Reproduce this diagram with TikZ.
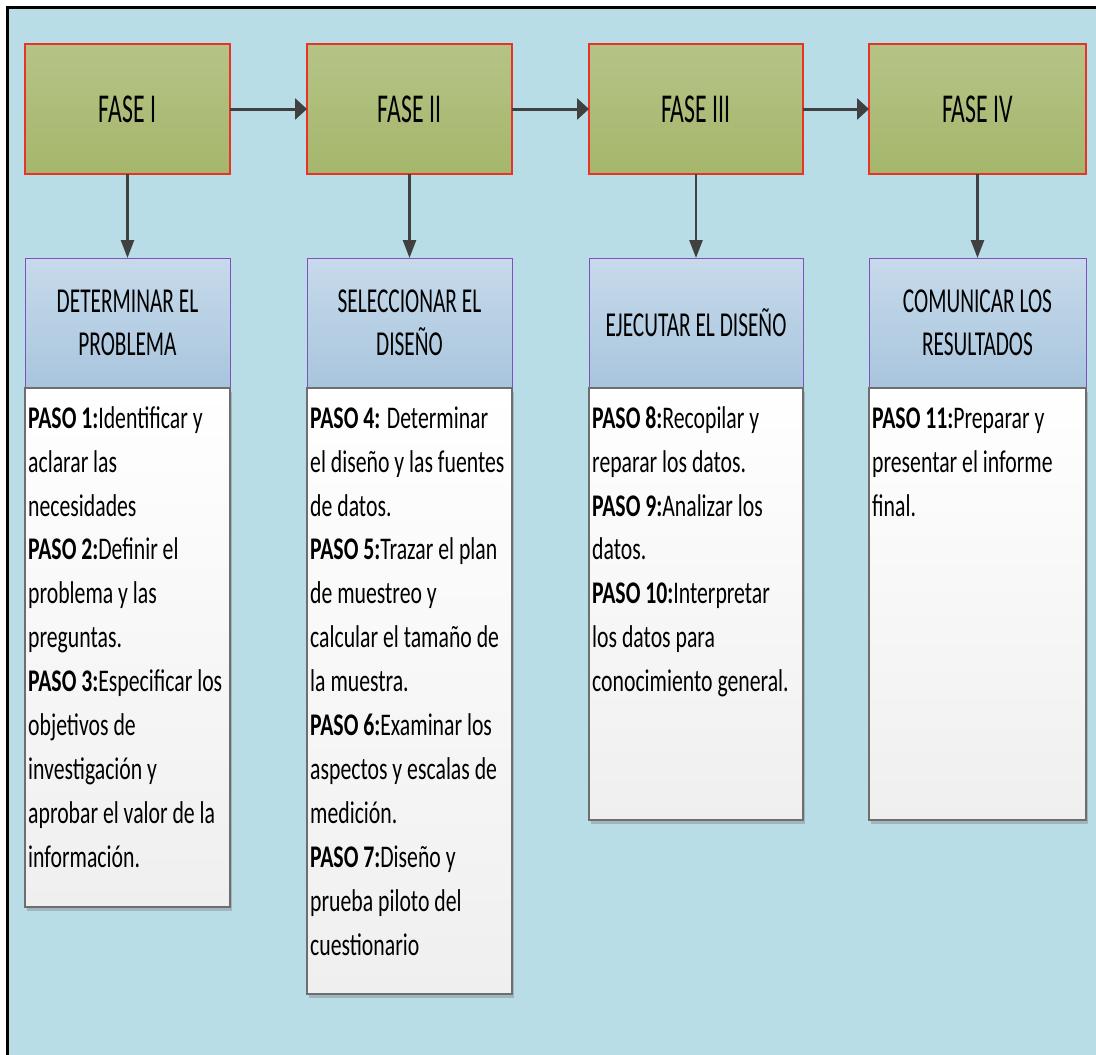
\documentclass[tikz,border=0pt]{standalone}
\usepackage{fontspec}
\setmainfont{Carlito}
\newfontfamily\fasefont[FakeStretch=0.58]{Carlito}
\newfontfamily\headfont[FakeStretch=0.61]{Carlito}
\newfontfamily\pasofont[FakeStretch=0.69]{Carlito}
\usetikzlibrary{arrows.meta,shadows}

\definecolor{bgblue}{RGB}{184,221,230}
\definecolor{greentop}{RGB}{181,196,134}
\definecolor{greenbot}{RGB}{165,182,108}
\definecolor{faseborder}{RGB}{232,52,40}
\definecolor{headtop}{RGB}{199,218,235}
\definecolor{headbot}{RGB}{168,197,221}
\definecolor{headborder}{RGB}{130,80,190}
\definecolor{boxtop}{RGB}{255,255,255}
\definecolor{boxbot}{RGB}{239,239,239}
\definecolor{boxborder}{RGB}{110,110,110}
\definecolor{arrowgray}{RGB}{64,64,64}
\definecolor{shadowgray}{RGB}{160,182,190}

\tikzset{
  fasebox/.style={draw=faseborder, line width=1.3pt, top color=greentop,
    bottom color=greenbot, minimum height=130pt, inner sep=0pt, outer sep=0pt,
    font=\fasefont\fontsize{41}{45}\selectfont},
  headbox/.style={draw=headborder, line width=1pt, top color=headtop,
    bottom color=headbot, minimum height=130pt, inner sep=0pt, outer sep=0pt,
    align=center, font=\headfont\fontsize{35}{43}\selectfont},
  pasobox/.style={draw=boxborder, line width=1.2pt, top color=boxtop,
    bottom color=boxbot, inner sep=0pt, outer sep=0pt,
    drop shadow={shadow xshift=2pt, shadow yshift=-4pt, fill=shadowgray, opacity=1}},
  pasotext/.style={anchor=north west, inner sep=0pt, align=left,
    font=\pasofont\fontsize{31.5}{43.9}\selectfont},
  harrow/.style={draw=arrowgray, line width=3pt,
    -{Triangle[length=12pt, width=21pt]}},
  varrow/.style={draw=arrowgray, line width=2.5pt,
    -{Triangle[length=18pt, width=13pt]}},
}

\newcommand{\firstline}{\rule{0pt}{25pt}}

\begin{document}
\begin{tikzpicture}[x=1pt, y=-1pt]
  \useasboundingbox (0,0) rectangle (1096,1055);
  % canvas with frame on the left and top
  \fill[white] (0,0) rectangle (1096,1055);
  \fill[bgblue] (7.5,7.5) rectangle (1096,1055);
  \draw[black, line width=2.6pt] (7.5,1055) -- (7.5,7.5) -- (1096,7.5);

  % phases
  \node[fasebox, minimum width=205pt] (f1) at (127.5,109) {FASE I};
  \node[fasebox, minimum width=205pt] (f2) at (409.5,109) {FASE II};
  \node[fasebox, minimum width=214pt] (f3) at (696,109)   {FASE III};
  \node[fasebox, minimum width=217pt] (f4) at (977.5,109) {FASE IV};

  % headings
  \node[headbox, minimum width=205pt] (h1) at (127.5,323) {DETERMINAR EL\\PROBLEMA};
  \node[headbox, minimum width=205pt] (h2) at (409.5,323) {SELECCIONAR EL\\DISEÑO};
  \node[headbox, minimum width=214pt] (h3) at (696,323)   {EJECUTAR EL DISEÑO};
  \node[headbox, minimum width=217pt] (h4) at (977.5,323) {COMUNICAR LOS\\RESULTADOS};

  % step boxes
  \node[pasobox, minimum width=205pt, minimum height=519pt, anchor=north] (b1) at (h1.south) {};
  \node[pasobox, minimum width=205pt, minimum height=606pt, anchor=north] (b2) at (h2.south) {};
  \node[pasobox, minimum width=214pt, minimum height=432pt, anchor=north] (b3) at (h3.south) {};
  \node[pasobox, minimum width=217pt, minimum height=432pt, anchor=north] (b4) at (h4.south) {};

  % step texts
  \node[pasotext] (t1) at ([shift={(3pt,-15pt)}]b1.north west) {\firstline\textbf{PASO 1:}Identificar y\\
    aclarar las\\ necesidades\\ \textbf{PASO 2:}Definir el\\ problema y las\\ preguntas.\\
    \textbf{PASO 3:}Especificar los\\ objetivos de\\ investigación y\\
    aprobar el valor de la\\ información.};
  \node[pasotext] (t2) at ([shift={(3pt,-15pt)}]b2.north west) {\firstline\textbf{PASO 4:} Determinar\\
    el diseño y las fuentes\\ de datos.\\ \textbf{PASO 5:}Trazar el plan\\ de muestreo y\\
    calcular el tamaño de\\ la muestra.\\ \textbf{PASO 6:}Examinar los\\
    aspectos y escalas de\\ medición.\\ \textbf{PASO 7:}Diseño y\\ prueba piloto del\\
    cuestionario};
  \node[pasotext] (t3) at ([shift={(3pt,-15pt)}]b3.north west) {\firstline\textbf{PASO 8:}Recopilar y\\
    reparar los datos.\\ \textbf{PASO 9:}Analizar los\\ datos.\\
    \textbf{PASO 10:}Interpretar\\ los datos para\\ conocimiento general.};
  \node[pasotext] (t4) at ([shift={(3pt,-15pt)}]b4.north west) {\firstline\textbf{PASO 11:}Preparar y\\
    presentar el informe\\ final.};

  % connectors between phases
  \draw[harrow] (f1.east) -- (f2.west);
  \draw[harrow] (f2.east) -- (f3.west);
  \draw[harrow] (f3.east) -- (f4.west);

  % connectors from phases to headings
  \draw[varrow] (f1.south) -- (h1.north);
  \draw[varrow] (f2.south) -- (h2.north);
  \draw[varrow] (f3.south) -- (h3.north);
  \draw[varrow] (f4.south) -- (h4.north);
\end{tikzpicture}
\end{document}
